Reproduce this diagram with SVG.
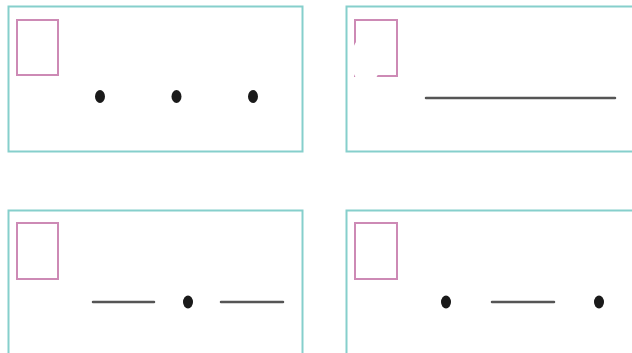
<svg xmlns="http://www.w3.org/2000/svg" width="632" height="353" viewBox="0 0 632 353">
<style>
.panel{fill:#fff;stroke:#86cfcc;stroke-width:2}
.box{fill:#fff;stroke:#cd8ab5;stroke-width:2}
.dot{fill:#1a1a1a}
.ln{stroke:#555;stroke-width:2.5;stroke-linecap:round}
</style>
<rect width="632" height="353" fill="#fff"/>
<g id="panel1">
<rect class="panel" x="8.5" y="6.5" width="294" height="145"/>
<rect class="box" x="17" y="20" width="41" height="55"/>
<ellipse class="dot" cx="100" cy="96.5" rx="5" ry="6.5"/>
<ellipse class="dot" cx="176.5" cy="96.5" rx="5" ry="6.5"/>
<ellipse class="dot" cx="253" cy="96.5" rx="5" ry="6.5"/>
</g>
<g id="panel2">
<rect class="panel" x="346.5" y="6.5" width="300" height="145"/>
<rect class="box" x="355" y="20" width="42" height="56"/>
<ellipse cx="366" cy="60" rx="15" ry="24" fill="#fff"/>
<line class="ln" x1="426" y1="98" x2="615" y2="98"/>
</g>
<g id="panel3">
<rect class="panel" x="8.5" y="210.5" width="294" height="160"/>
<rect class="box" x="17" y="223" width="41" height="56"/>
<line class="ln" x1="93" y1="302" x2="154" y2="302"/>
<ellipse class="dot" cx="188" cy="302" rx="5" ry="6.5"/>
<line class="ln" x1="221" y1="302" x2="283" y2="302"/>
</g>
<g id="panel4">
<rect class="panel" x="346.5" y="210.5" width="300" height="160"/>
<rect class="box" x="355" y="223" width="42" height="56"/>
<ellipse class="dot" cx="446" cy="302" rx="5" ry="6.5"/>
<line class="ln" x1="492" y1="302" x2="554" y2="302"/>
<ellipse class="dot" cx="599" cy="302" rx="5" ry="6.5"/>
</g>
<g id="connectors"/>
</svg>
